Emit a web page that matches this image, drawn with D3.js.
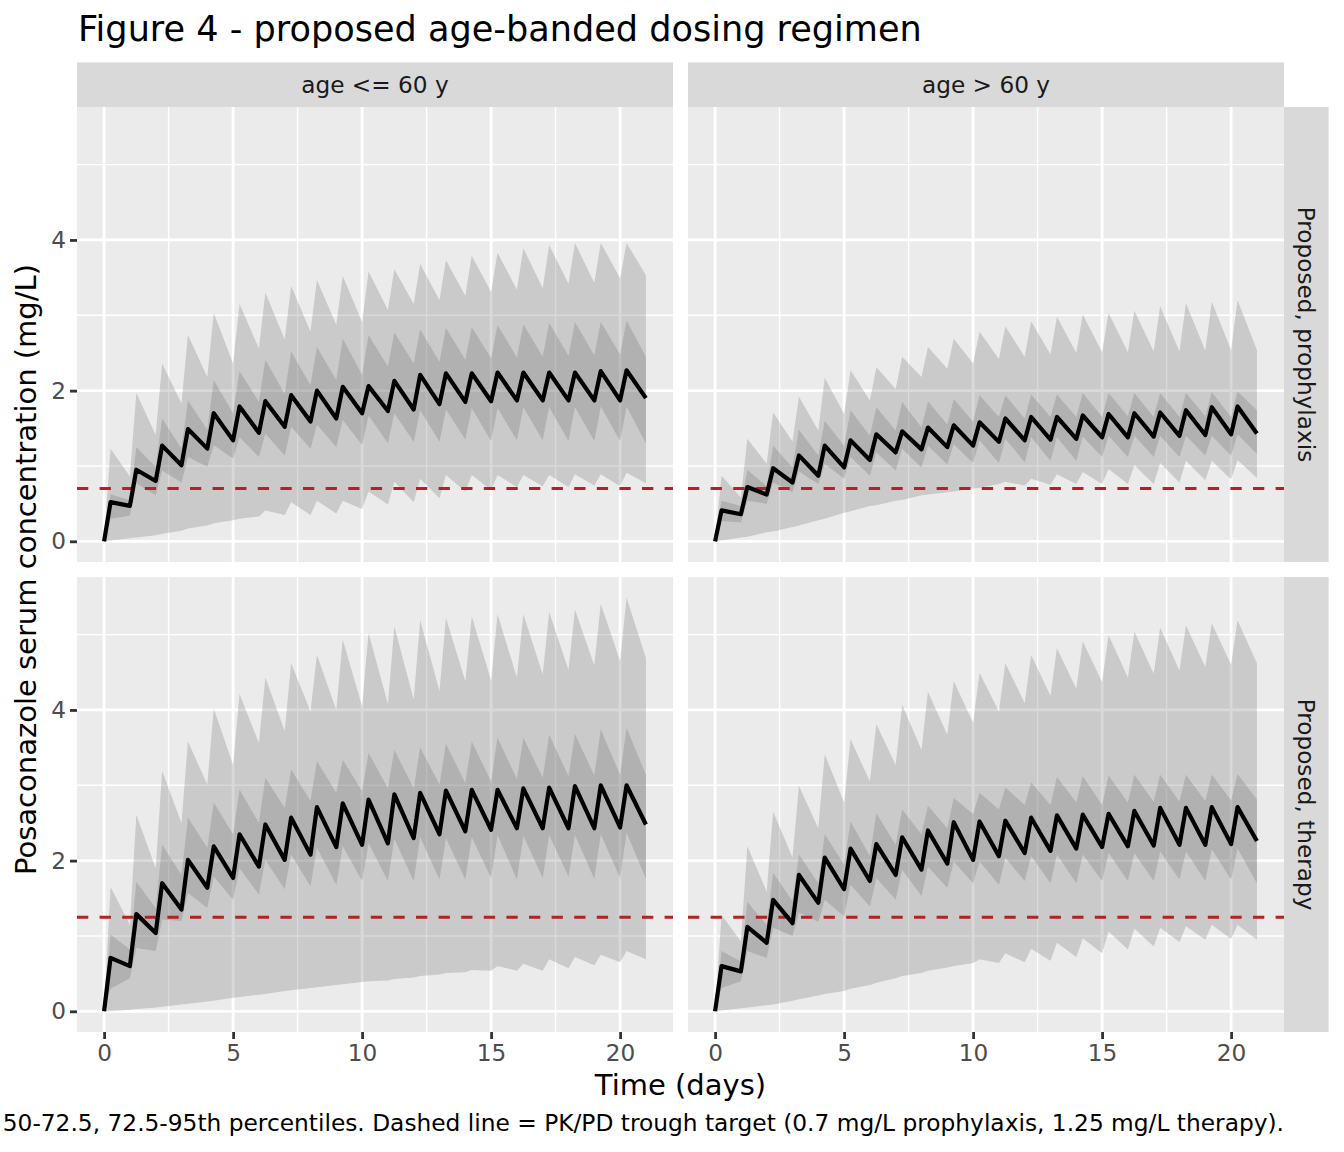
<!DOCTYPE html>
<html>
<head>
<meta charset="utf-8">
<script src="https://cdn.jsdelivr.net/npm/d3@7/dist/d3.min.js"></script>
<style>
  body { margin: 0; background: #ffffff; }
  svg { display: block; font-family: "DejaVu Sans", sans-serif; }
</style>
</head>
<body>
<svg id="chart" width="1344" height="1152"></svg>
<script>
/********/
/* data */
/********/

// sampling times (days): start, then peak (dose + 6 h) and trough (pre-dose) of each day
const sampleTime = [0,
  0.25, 1, 1.25, 2, 2.25, 3, 3.25, 4, 4.25, 5, 5.25, 6, 6.25, 7, 7.25, 8,
  8.25, 9, 9.25, 10, 10.25, 11, 11.25, 12, 12.25, 13, 13.25, 14, 14.25, 15,
  15.25, 16, 16.25, 17, 17.25, 18, 18.25, 19, 19.25, 20, 20.25, 21];

const ageBands = ["age <= 60 y", "age > 60 y"];
const regimens = ["Proposed, prophylaxis", "Proposed, therapy"];
const troughTarget = [0.7, 1.25];

const xTicks = [0, 5, 10, 15, 20];
const xMinorTicks = [2.5, 7.5, 12.5, 17.5];
const yTicks = [0, 2, 4];
const yMinorTicks = [1, 3, 5];

// age <= 60 y, prophylaxis
const youngProphP05 = [0, 0.01,0.04, 0.05,0.08, 0.10,0.14, 0.17,0.21, 0.24,0.28, 0.30,0.33, 0.41,0.35, 0.52,0.35, 0.54,0.37, 0.54,0.43, 0.66,0.49, 0.79,0.52, 0.83,0.57, 0.88,0.66, 0.88,0.68, 0.88,0.72, 0.88,0.73, 0.88,0.72, 0.89,0.74, 0.89,0.73, 0.91,0.77];
const youngProphP27 = [0, 0.30,0.34, 0.77,0.61, 0.94,0.78, 1.12,0.99, 1.28,1.10, 1.38,1.12, 1.43,1.14, 1.52,1.23, 1.55,1.25, 1.61,1.28, 1.67,1.30, 1.70,1.32, 1.74,1.32, 1.75,1.35, 1.77,1.33, 1.77,1.34, 1.78,1.34, 1.78,1.33, 1.78,1.33, 1.79,1.33, 1.79,1.30];
const youngProphP50 = [0, 0.52,0.47, 0.95,0.80, 1.27,1.01, 1.49,1.23, 1.70,1.34, 1.79,1.44, 1.86,1.52, 1.94,1.59, 2.00,1.63, 2.05,1.70, 2.06,1.73, 2.13,1.75, 2.21,1.82, 2.23,1.85, 2.23,1.86, 2.24,1.87, 2.24,1.87, 2.24,1.87, 2.24,1.87, 2.26,1.87, 2.27,1.90];
const youngProphP72 = [0, 0.62,0.55, 1.25,0.99, 1.63,1.23, 1.87,1.48, 2.14,1.70, 2.26,1.85, 2.41,1.96, 2.52,2.07, 2.58,2.14, 2.69,2.21, 2.74,2.32, 2.77,2.36, 2.81,2.38, 2.83,2.41, 2.84,2.43, 2.87,2.44, 2.88,2.45, 2.90,2.46, 2.91,2.47, 2.91,2.48, 2.93,2.45];
const youngProphP95 = [0, 1.23,0.86, 1.97,1.41, 2.36,1.83, 2.74,2.18, 3.03,2.36, 3.15,2.56, 3.30,2.68, 3.39,2.78, 3.47,2.87, 3.52,2.91, 3.58,3.07, 3.61,3.15, 3.68,3.20, 3.73,3.26, 3.79,3.31, 3.83,3.34, 3.89,3.36, 3.93,3.42, 3.96,3.43, 3.96,3.49, 3.96,3.53];

// age > 60 y, prophylaxis
const olderProphP05 = [0, 0.01,0.05, 0.06,0.12, 0.13,0.19, 0.21,0.28, 0.30,0.38, 0.40,0.47, 0.48,0.54, 0.55,0.61, 0.62,0.65, 0.66,0.70, 0.71,0.76, 0.79,0.74, 0.83,0.75, 0.89,0.76, 0.92,0.76, 0.96,0.76, 1.01,0.76, 1.04,0.78, 1.07,0.81, 1.07,0.82, 1.08,0.84];
const olderProphP27 = [0, 0.27,0.25, 0.54,0.50, 0.78,0.65, 0.93,0.76, 1.03,0.83, 1.12,0.87, 1.18,0.94, 1.23,0.98, 1.27,1.02, 1.29,1.04, 1.34,1.04, 1.36,1.05, 1.38,1.07, 1.38,1.07, 1.39,1.12, 1.40,1.12, 1.40,1.12, 1.40,1.12, 1.40,1.14, 1.40,1.14, 1.42,1.16];
const olderProphP50 = [0, 0.41,0.36, 0.72,0.62, 0.97,0.78, 1.14,0.87, 1.27,0.98, 1.34,1.08, 1.42,1.18, 1.46,1.22, 1.51,1.25, 1.54,1.27, 1.58,1.32, 1.63,1.34, 1.65,1.35, 1.65,1.36, 1.67,1.38, 1.69,1.38, 1.70,1.39, 1.71,1.40, 1.74,1.41, 1.78,1.42, 1.79,1.43];
const olderProphP72 = [0, 0.54,0.47, 0.95,0.73, 1.27,0.98, 1.48,1.14, 1.60,1.27, 1.74,1.40, 1.78,1.47, 1.85,1.51, 1.86,1.55, 1.89,1.59, 1.94,1.65, 1.94,1.63, 1.95,1.65, 1.95,1.65, 1.97,1.65, 1.97,1.66, 1.97,1.65, 1.97,1.65, 1.97,1.66, 1.98,1.65, 1.99,1.74];
const olderProphP95 = [0, 0.87,0.58, 1.36,1.03, 1.71,1.32, 1.92,1.47, 2.17,1.69, 2.27,1.87, 2.31,2.02, 2.45,2.18, 2.58,2.29, 2.69,2.36, 2.78,2.42, 2.85,2.45, 2.92,2.48, 2.98,2.50, 3.01,2.51, 3.03,2.51, 3.06,2.52, 3.12,2.52, 3.16,2.53, 3.18,2.54, 3.20,2.54];

// age <= 60 y, therapy
const youngTherP05 = [0, 0.00,0.02, 0.03,0.05, 0.06,0.09, 0.10,0.13, 0.14,0.18, 0.19,0.22, 0.23,0.27, 0.28,0.31, 0.32,0.35, 0.36,0.39, 0.40,0.41, 0.43,0.45, 0.47,0.49, 0.51,0.52, 0.55,0.54, 0.60,0.54, 0.63,0.54, 0.69,0.57, 0.72,0.61, 0.75,0.65, 0.80,0.69];
const youngTherP27 = [0, 0.30,0.44, 0.84,0.80, 1.22,1.20, 1.57,1.37, 1.79,1.48, 1.90,1.55, 2.01,1.62, 2.08,1.66, 2.17,1.68, 2.19,1.73, 2.23,1.73, 2.29,1.73, 2.31,1.75, 2.30,1.75, 2.31,1.77, 2.34,1.75, 2.33,1.77, 2.34,1.79, 2.34,1.76, 2.35,1.77, 2.37,1.76];
const youngTherP50 = [0, 0.71,0.60, 1.29,1.04, 1.70,1.35, 2.01,1.64, 2.19,1.77, 2.35,1.92, 2.48,2.01, 2.57,2.08, 2.71,2.18, 2.76,2.21, 2.81,2.23, 2.88,2.30, 2.90,2.35, 2.93,2.39, 2.94,2.41, 2.94,2.43, 2.96,2.43, 2.97,2.43, 2.99,2.43, 3.00,2.44, 3.00,2.48];
const youngTherP72 = [0, 1.02,0.82, 1.72,1.37, 2.21,1.81, 2.57,2.17, 2.77,2.35, 2.94,2.50, 3.10,2.70, 3.21,2.79, 3.32,2.90, 3.34,2.92, 3.43,2.96, 3.47,2.96, 3.50,3.01, 3.55,3.03, 3.58,3.05, 3.63,3.08, 3.63,3.10, 3.67,3.12, 3.68,3.13, 3.74,3.14, 3.76,3.14];
const youngTherP95 = [0, 1.65,1.15, 2.61,1.90, 3.19,2.50, 3.58,3.01, 4.02,3.27, 4.21,3.56, 4.43,3.72, 4.62,3.98, 4.73,4.00, 4.93,4.05, 5.02,4.08, 5.11,4.14, 5.19,4.25, 5.22,4.38, 5.24,4.39, 5.27,4.43, 5.27,4.47, 5.30,4.53, 5.33,4.59, 5.41,4.65, 5.49,4.69];

// age > 60 y, therapy
const olderTherP05 = [0, 0.01,0.04, 0.05,0.08, 0.09,0.14, 0.16,0.21, 0.23,0.27, 0.30,0.35, 0.38,0.44, 0.47,0.51, 0.54,0.58, 0.60,0.64, 0.69,0.64, 0.77,0.65, 0.83,0.67, 0.91,0.72, 0.97,0.77, 1.06,0.82, 1.10,0.86, 1.11,0.92, 1.13,0.95, 1.15,0.96, 1.15,0.95];
const olderTherP27 = [0, 0.31,0.40, 0.80,0.71, 1.11,1.00, 1.31,1.19, 1.48,1.26, 1.68,1.39, 1.77,1.48, 1.88,1.53, 1.92,1.64, 1.99,1.70, 1.99,1.68, 2.04,1.73, 2.06,1.70, 2.08,1.70, 2.08,1.73, 2.10,1.73, 2.10,1.73, 2.12,1.75, 2.12,1.73, 2.15,1.75, 2.16,1.70];
const olderTherP50 = [0, 0.60,0.53, 1.12,0.91, 1.48,1.17, 1.81,1.44, 2.04,1.62, 2.16,1.73, 2.22,1.81, 2.31,1.88, 2.40,1.96, 2.51,2.01, 2.52,2.06, 2.53,2.10, 2.57,2.13, 2.60,2.16, 2.61,2.18, 2.62,2.19, 2.66,2.20, 2.70,2.21, 2.70,2.21, 2.71,2.22, 2.71,2.26];
const olderTherP72 = [0, 0.80,0.66, 1.45,1.15, 1.84,1.46, 2.08,1.70, 2.35,1.95, 2.52,2.06, 2.63,2.21, 2.68,2.35, 2.73,2.43, 2.83,2.62, 2.90,2.68, 2.97,2.74, 3.04,2.74, 3.11,2.77, 3.12,2.74, 3.13,2.77, 3.14,2.78, 3.14,2.78, 3.14,2.79, 3.14,2.80, 3.15,2.81];
const olderTherP95 = [0, 1.28,0.93, 2.19,1.59, 2.65,2.04, 2.99,2.43, 3.41,2.77, 3.61,3.05, 3.81,3.27, 4.07,3.47, 4.24,3.67, 4.38,3.83, 4.49,3.98, 4.62,4.09, 4.73,4.19, 4.82,4.28, 4.91,4.37, 4.99,4.43, 5.04,4.48, 5.09,4.52, 5.12,4.57, 5.15,4.60, 5.19,4.62];

const titleText = "Figure 4 - proposed age-banded dosing regimen";
const xTitle = "Time (days)";
const yTitle = "Posaconazole serum concentration (mg/L)";
// only the part of the caption that is visible in the figure
const captionText = "50-72.5, 72.5-95th percentiles. " +
  "Dashed line = PK/PD trough target (0.7 mg/L prophylaxis, 1.25 mg/L therapy).";

const panels = [
  { row: 0, col: 0, p05: youngProphP05, p27: youngProphP27, p50: youngProphP50, p72: youngProphP72, p95: youngProphP95 },
  { row: 0, col: 1, p05: olderProphP05, p27: olderProphP27, p50: olderProphP50, p72: olderProphP72, p95: olderProphP95 },
  { row: 1, col: 0, p05: youngTherP05, p27: youngTherP27, p50: youngTherP50, p72: youngTherP72, p95: youngTherP95 },
  { row: 1, col: 1, p05: olderTherP05, p27: olderTherP27, p50: olderTherP50, p72: olderTherP72, p95: olderTherP95 },
];

/**********/
/* layout */
/**********/

const layout = {
  left: 77,
  top: 107,
  panelW: 596,
  panelH: 455,
  gap: 15,
  strip: 44.6,
  panelBg: "#ebebeb",
  stripBg: "#d9d9d9",
  band: "#666666",
  bandOpacity: 0.25,
  target: "#b22222",
  tickText: 23.2,
};

function expand(extent) {
  const pad = (extent[1] - extent[0]) * 0.05;
  return [extent[0] - pad, extent[1] + pad];
}

const x = d3
  .scaleLinear()
  .domain(expand(d3.extent(sampleTime)))
  .range([0, layout.panelW]);

const yMax = d3.max(panels, p => d3.max(p.p95));
const y = d3
  .scaleLinear()
  .domain(expand([0, yMax]))
  .range([layout.panelH, 0]);

function panelX0(col) {
  return layout.left + col * (layout.panelW + layout.gap);
}
function panelY0(row) {
  return layout.top + row * (layout.panelH + layout.gap);
}

/********/
/* view */
/********/

const svg = d3.select("#chart");

function bandArea(lo, hi) {
  return d3
    .area()
    .x((d, i) => x(sampleTime[i]))
    .y0((d, i) => y(lo[i]))
    .y1((d, i) => y(hi[i]))(sampleTime);
}

function gridLines(g, values, vertical, width) {
  g.append("g")
    .selectAll("line")
    .data(values)
    .enter()
    .append("line")
    .attr("x1", d => (vertical ? x(d) : 0))
    .attr("x2", d => (vertical ? x(d) : layout.panelW))
    .attr("y1", d => (vertical ? 0 : y(d)))
    .attr("y2", d => (vertical ? layout.panelH : y(d)))
    .attr("stroke", "#ffffff")
    .attr("stroke-width", width);
}

function panelView(p) {
  const g = svg
    .append("g")
    .attr("transform", `translate(${panelX0(p.col)},${panelY0(p.row)})`);

  g.append("rect")
    .attr("width", layout.panelW)
    .attr("height", layout.panelH)
    .attr("fill", layout.panelBg);

  // grid
  gridLines(g, xMinorTicks, true, 1.4);
  gridLines(g, yMinorTicks, false, 1.4);
  gridLines(g, xTicks, true, 2.8);
  gridLines(g, yTicks, false, 2.8);

  // percentile bands: 5-95 and 27.5-72.5 stacked
  g.append("path")
    .attr("d", bandArea(p.p05, p.p95))
    .attr("fill", layout.band)
    .attr("fill-opacity", layout.bandOpacity);
  g.append("path")
    .attr("d", bandArea(p.p27, p.p72))
    .attr("fill", layout.band)
    .attr("fill-opacity", layout.bandOpacity);

  // trough target
  g.append("line")
    .attr("x1", 0)
    .attr("x2", layout.panelW)
    .attr("y1", y(troughTarget[p.row]))
    .attr("y2", y(troughTarget[p.row]))
    .attr("stroke", layout.target)
    .attr("stroke-width", 3)
    .attr("stroke-dasharray", "11.3 11.3");

  // median
  const line = d3
    .line()
    .x((d, i) => x(sampleTime[i]))
    .y(d => y(d));
  g.append("path")
    .attr("d", line(p.p50))
    .attr("fill", "none")
    .attr("stroke", "#000000")
    .attr("stroke-width", 4.2)
    .attr("stroke-linejoin", "round");

  if (p.row === 1) {
    const ax = g
      .append("g")
      .attr("transform", `translate(0,${layout.panelH})`)
      .call(
        d3.axisBottom(x)
          .tickValues(xTicks)
          .tickFormat(d3.format("d"))
          .tickSize(7)
          .tickSizeOuter(0)
          .tickPadding(5.5),
      );
    styleAxis(ax);
  }
  if (p.col === 0) {
    const ay = g
      .append("g")
      .call(
        d3.axisLeft(y)
          .tickValues(yTicks)
          .tickFormat(d3.format("d"))
          .tickSize(7)
          .tickSizeOuter(0)
          .tickPadding(4),
      );
    styleAxis(ay);
  }
}

function styleAxis(ax) {
  ax.attr("font-family", null).attr("font-size", null);
  ax.select(".domain").remove();
  ax.selectAll(".tick line").attr("stroke", "#333333").attr("stroke-width", 2.8);
  ax.selectAll(".tick text")
    .attr("fill", "#4d4d4d")
    .style("font-family", '"DejaVu Sans"')
    .style("font-size", `${layout.tickText}px`);
}

function stripView() {
  ageBands.forEach((label, col) => {
    const x0 = panelX0(col);
    svg.append("rect")
      .attr("x", x0)
      .attr("y", layout.top - layout.strip)
      .attr("width", layout.panelW)
      .attr("height", layout.strip)
      .attr("fill", layout.stripBg);
    svg.append("text")
      .attr("x", x0 + layout.panelW / 2)
      .attr("y", layout.top - layout.strip / 2 + 8.5)
      .attr("text-anchor", "middle")
      .attr("fill", "#1a1a1a")
      .style("font-size", "23.2px")
      .text(label);
  });
  regimens.forEach((label, row) => {
    const y0 = panelY0(row);
    const x0 = panelX0(1) + layout.panelW;
    svg.append("rect")
      .attr("x", x0)
      .attr("y", y0)
      .attr("width", layout.strip)
      .attr("height", layout.panelH)
      .attr("fill", layout.stripBg);
    svg.append("text")
      .attr("transform", `translate(${x0 + layout.strip / 2 - 8.5},${y0 + layout.panelH / 2}) rotate(90)`)
      .attr("text-anchor", "middle")
      .attr("fill", "#1a1a1a")
      .style("font-size", "23.2px")
      .text(label);
  });
}

function labelsView() {
  const right = panelX0(1) + layout.panelW;
  const bottom = panelY0(1) + layout.panelH;

  svg.append("text")
    .attr("x", layout.left + 1)
    .attr("y", 41)
    .attr("fill", "#000000")
    .style("font-size", "35.1px")
    .text(titleText);

  svg.append("text")
    .attr("x", (layout.left + right) / 2)
    .attr("y", bottom + 63)
    .attr("text-anchor", "middle")
    .attr("fill", "#000000")
    .style("font-size", "29px")
    .text(xTitle);

  svg.append("text")
    .attr("transform", `translate(35.5,${(layout.top + bottom) / 2}) rotate(-90)`)
    .attr("text-anchor", "middle")
    .attr("fill", "#000000")
    .style("font-size", "29px")
    .text(yTitle);

  svg.append("text")
    .attr("x", right)
    .attr("y", 1131)
    .attr("text-anchor", "end")
    .attr("fill", "#000000")
    .style("font-size", "23.3px")
    .text(captionText);
}

/********/
/* init */
/********/

panels.forEach(panelView);
stripView();
labelsView();
</script>
</body>
</html>
